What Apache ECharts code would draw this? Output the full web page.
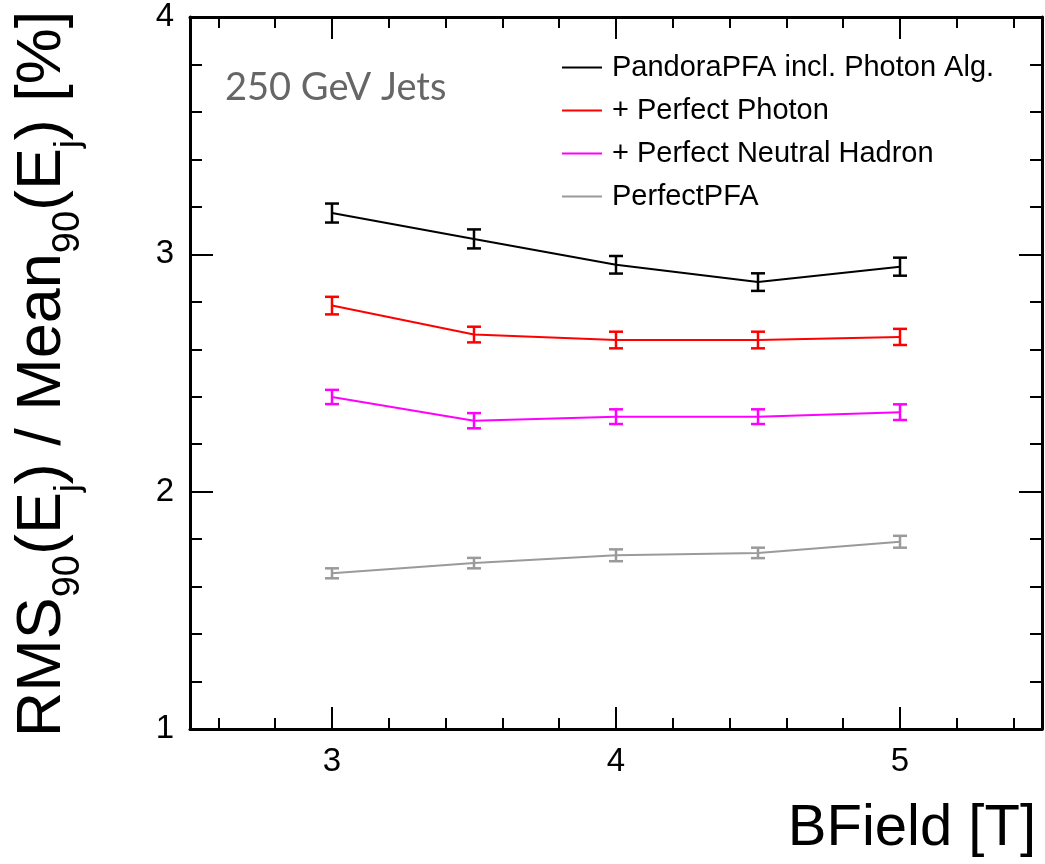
<!DOCTYPE html>
<html>
<head>
<meta charset="utf-8">
<title>Jet energy resolution vs BField</title>
<script src="https://cdn.jsdelivr.net/npm/echarts@6/dist/echarts.min.js"></script>
<style>
  html, body { margin: 0; padding: 0; background: #fff; }
  #chart { width: 1045px; height: 864px; }
</style>
</head>
<body>
<div id="chart"></div>
<script>
// Magnetic field values [T]
const bField = [3, 3.5, 4, 4.5, 5];

// Jet energy resolution RMS90/Mean90 [%] with uncertainties
const pandoraRes = [3.174, 3.065, 2.956, 2.883, 2.948];
const pandoraErr = [0.040, 0.040, 0.037, 0.037, 0.038];
const perfectPhotonRes = [2.784, 2.662, 2.639, 2.639, 2.652];
const perfectPhotonErr = [0.037, 0.033, 0.035, 0.035, 0.034];
const perfectNeutralRes = [2.399, 2.299, 2.316, 2.316, 2.335];
const perfectNeutralErr = [0.030, 0.032, 0.031, 0.031, 0.033];
const perfectPfaRes = [1.656, 1.699, 1.732, 1.742, 1.789];
const perfectPfaErr = [0.021, 0.022, 0.025, 0.022, 0.025];

// Series names
const seriesNames = [
  'PandoraPFA incl. Photon Alg.',
  '+ Perfect Photon',
  '+ Perfect Neutral Hadron',
  'PerfectPFA'
];

// Tick positions
const xMajorTicks = [3, 4, 5];
const xMinorTicks = [2.6, 2.8, 3.2, 3.4, 3.6, 3.8, 4.2, 4.4, 4.6, 4.8, 5.2, 5.4];
const yMajorTicks = [1, 2, 3, 4];
const yMinorTicks = [1.2, 1.4, 1.6, 1.8, 2.2, 2.4, 2.6, 2.8, 3.2, 3.4, 3.6, 3.8];

const FONT = '"Liberation Sans", Arial, Helvetica, sans-serif';
const colors = ['#000000', '#ff0000', '#ff00ff', '#9a9a9a'];
const resSets = [pandoraRes, perfectPhotonRes, perfectNeutralRes, perfectPfaRes];
const errSets = [pandoraErr, perfectPhotonErr, perfectNeutralErr, perfectPfaErr];

function frameAxis(kind, position, ticks, len, showLabel, showLine) {
  const isX = kind === 'x';
  return {
    type: 'value',
    position: position,
    min: isX ? 2.5 : 1,
    max: isX ? 5.5 : 4,
    axisLine: { show: showLine, onZero: false, lineStyle: { color: '#000', width: 3 } },
    axisTick: {
      show: true, inside: true, length: len, customValues: ticks,
      lineStyle: { color: '#000', width: 2 }
    },
    axisLabel: showLabel ? {
      show: true, customValues: ticks, color: '#000',
      fontFamily: FONT, fontSize: 33, margin: 16
    } : { show: false },
    splitLine: { show: false }
  };
}

// Vertical error bar with end caps
function errorBar(color) {
  return function (params, api) {
    const x = api.value(0), y = api.value(1), e = api.value(2);
    const top = api.coord([x, y + e]);
    const bot = api.coord([x, y - e]);
    const hw = 7;
    const st = { stroke: color, lineWidth: 2.5 };
    return {
      type: 'group',
      children: [
        { type: 'line', shape: { x1: top[0], y1: top[1], x2: bot[0], y2: bot[1] }, style: st },
        { type: 'line', shape: { x1: top[0] - hw, y1: top[1], x2: top[0] + hw, y2: top[1] }, style: st },
        { type: 'line', shape: { x1: bot[0] - hw, y1: bot[1], x2: bot[0] + hw, y2: bot[1] }, style: st }
      ]
    };
  };
}

const series = [];
seriesNames.forEach(function (name, k) {
  series.push({
    name: name,
    type: 'line',
    xAxisIndex: 0,
    yAxisIndex: 0,
    data: bField.map(function (b, i) { return [b, resSets[k][i]]; }),
    showSymbol: false,
    lineStyle: { color: colors[k], width: 2 },
    itemStyle: { color: colors[k] },
    z: 3
  });
  series.push({
    name: name + ' err',
    type: 'custom',
    xAxisIndex: 0,
    yAxisIndex: 0,
    renderItem: errorBar(colors[k]),
    data: bField.map(function (b, i) { return [b, resSets[k][i], errSets[k][i]]; }),
    z: 4
  });
});

const chart = echarts.init(document.getElementById('chart'), null, { renderer: 'canvas' });
chart.setOption({
  animation: false,
  backgroundColor: '#ffffff',
  grid: { left: 190, right: 3, top: 17, bottom: 135, containLabel: false },
  xAxis: [
    frameAxis('x', 'bottom', xMajorTicks, 22, true, true),
    frameAxis('x', 'bottom', xMinorTicks, 11, false, false),
    frameAxis('x', 'top', xMajorTicks, 22, false, true),
    frameAxis('x', 'top', xMinorTicks, 11, false, false)
  ],
  yAxis: [
    frameAxis('y', 'left', yMajorTicks, 23, true, true),
    frameAxis('y', 'left', yMinorTicks, 12, false, false),
    frameAxis('y', 'right', yMajorTicks, 23, false, true),
    frameAxis('y', 'right', yMinorTicks, 12, false, false)
  ],
  legend: {
    data: seriesNames,
    orient: 'vertical',
    left: 562,
    top: 53,
    padding: 0,
    itemGap: 14,
    itemWidth: 40,
    itemHeight: 2,
    icon: 'rect',
    textStyle: { fontFamily: FONT, fontSize: 29, lineHeight: 29, color: '#000', padding: [0, 0, 0, 5] }
  },
  graphic: [
    {
      type: 'text',
      x: 225,
      y: 88,
      style: {
        text: '250 GeV Jets',
        fill: '#666666',
        font: '38px Lato, "Open Sans", sans-serif',
        align: 'left',
        verticalAlign: 'middle'
      }
    },
    {
      type: 'text',
      x: 1036,
      y: 829,
      style: {
        text: 'BField [T]',
        fill: '#000',
        font: '58px ' + FONT,
        align: 'right',
        verticalAlign: 'middle'
      }
    },
    {
      type: 'text',
      x: 43,
      y: 374,
      rotation: Math.PI / 2,
      style: {
        text: '{m|RMS}{s|90}{m|(E}{j|j}{m|) / Mean}{s|90}{m|(E}{j|j}{m|) [%]}',
        align: 'center',
        verticalAlign: 'middle',
        fill: '#000',
        rich: {
          m: { fontFamily: FONT, fontSize: 63, lineHeight: 63, fill: '#000' },
          s: { fontFamily: FONT, fontSize: 38, lineHeight: 38, padding: [52, 0, 0, 0], fill: '#000' },
          j: { fontFamily: FONT, fontSize: 35, lineHeight: 35, padding: [52, 0, 0, 0], fill: '#000' }
        }
      }
    }
  ],
  series: series
});
</script>
</body>
</html>
